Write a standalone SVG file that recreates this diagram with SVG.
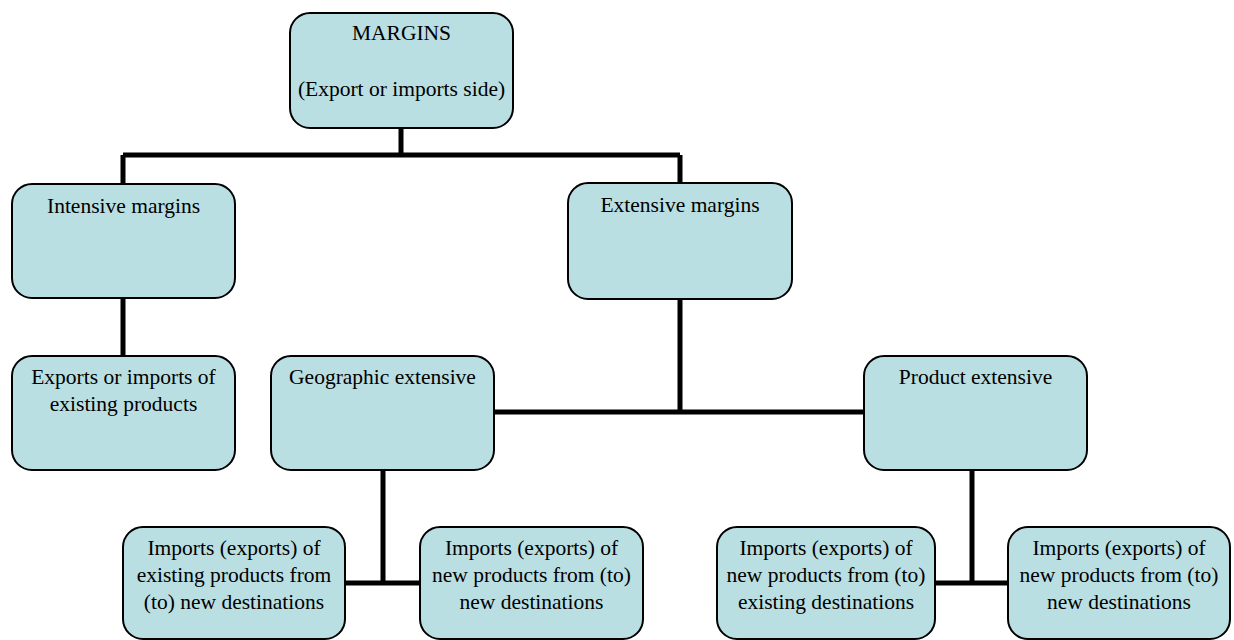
<svg xmlns="http://www.w3.org/2000/svg" width="1234" height="640" viewBox="0 0 1234 640">
<style>
.box{fill:#badfe3;stroke:#000;stroke-width:2}
.c{fill:none;stroke:#000;stroke-width:5}
</style>
<rect width="1234" height="640" fill="#fff"/>
<g id="connectors">
<path class="c" d="M401,128 V155 M123,155 H680 M123,155 V184 M680,155 V183"/>
<path class="c" d="M123,298 V356"/>
<path class="c" d="M680,299 V412 M494,412 H864"/>
<path class="c" d="M383,470 V583 M345,583 H420"/>
<path class="c" d="M972,470 V583 M935,583 H1008"/>
</g>
<g font-family="'Liberation Serif', 'Times New Roman', serif" font-size="21.5" fill="#000" text-anchor="middle">
<g id="margins">
<rect class="box" x="290" y="13" width="223" height="115" rx="20"/>
<text x="401.5" y="40">MARGINS</text>
<text x="401.5" y="96">(Export or imports side)</text>
</g>
<g id="intensive">
<rect class="box" x="12" y="184" width="223" height="114" rx="20"/>
<text x="123.5" y="213">Intensive margins</text>
</g>
<g id="extensive">
<rect class="box" x="568" y="183" width="224" height="116" rx="20"/>
<text x="680" y="212">Extensive margins</text>
</g>
<g id="existing">
<rect class="box" x="12" y="356" width="223" height="114" rx="20"/>
<text x="123.5" y="384">Exports or imports of</text>
<text x="123.5" y="411">existing products</text>
</g>
<g id="geographic">
<rect class="box" x="271" y="356" width="223" height="114" rx="20"/>
<text x="382.5" y="384">Geographic extensive</text>
</g>
<g id="product">
<rect class="box" x="864" y="356" width="223" height="114" rx="20"/>
<text x="975.5" y="384">Product extensive</text>
</g>
<g id="geo-existing">
<rect class="box" x="123" y="527" width="222" height="112" rx="20"/>
<text x="234" y="555">Imports (exports) of</text>
<text x="234" y="582">existing products from</text>
<text x="234" y="609">(to) new destinations</text>
</g>
<g id="geo-new">
<rect class="box" x="420" y="527" width="223" height="112" rx="20"/>
<text x="531.5" y="555">Imports (exports) of</text>
<text x="531.5" y="582">new products from (to)</text>
<text x="531.5" y="609">new destinations</text>
</g>
<g id="prod-existing">
<rect class="box" x="717" y="527" width="218" height="112" rx="20"/>
<text x="826" y="555">Imports (exports) of</text>
<text x="826" y="582">new products from (to)</text>
<text x="826" y="609">existing destinations</text>
</g>
<g id="prod-new">
<rect class="box" x="1008" y="527" width="222" height="112" rx="20"/>
<text x="1119" y="555">Imports (exports) of</text>
<text x="1119" y="582">new products from (to)</text>
<text x="1119" y="609">new destinations</text>
</g>
</g>
</svg>
